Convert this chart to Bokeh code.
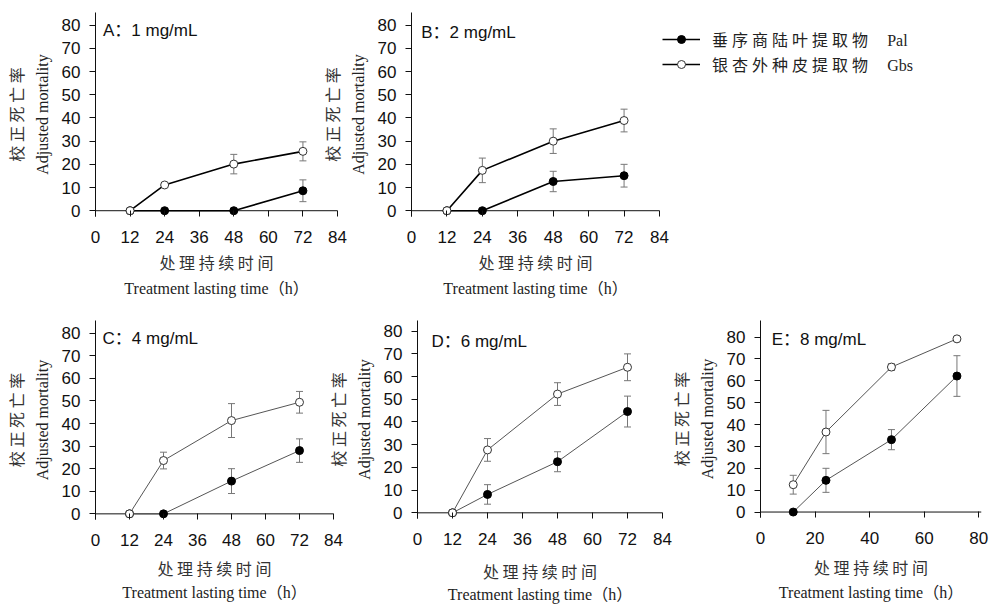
from bokeh.plotting import figure
from bokeh.models import (ColumnDataSource, Whisker, TeeHead, Span, Label, LinearAxis,
                          FixedTicker, Range1d, Legend, LegendItem)
from bokeh.layouts import row, column
from bokeh.embed import file_html
from bokeh.resources import INLINE

# ---------------- data ----------------
hours = [12, 24, 48, 72]

pal_A = [0, 0, 0, 8.6]
pal_A_err = [0, 0, 0, 4.7]
gbs_A = [0, 11.1, 20.1, 25.6]
gbs_A_err = [0, 0, 4.2, 4.1]

pal_B = [0, 0, 12.6, 15.1]
pal_B_err = [0, 0, 4.4, 4.9]
gbs_B = [0, 17.4, 30.0, 38.9]
gbs_B_err = [0, 5.3, 5.3, 4.9]

pal_C = [0, 0, 14.5, 28.0]
pal_C_err = [0, 0, 5.5, 5.2]
gbs_C = [0, 23.6, 41.3, 49.4]
gbs_C_err = [0, 3.7, 7.5, 4.8]

pal_D = [0, 8.1, 22.5, 44.6]
pal_D_err = [0, 4.3, 4.4, 6.8]
gbs_D = [0, 27.7, 52.3, 64.1]
gbs_D_err = [0, 5.0, 5.0, 5.9]

pal_E = [0, 14.5, 33.1, 62.2]
pal_E_err = [0, 5.5, 4.6, 9.3]
gbs_E = [12.5, 36.6, 66.3, 79.2]
gbs_E_err = [4.3, 9.9, 1.5, 0.5]

x_ticks_h = [0, 12, 24, 36, 48, 60, 72, 84]
x_ticks_E = [0, 20, 40, 60, 80]
y_ticks = [0, 10, 20, 30, 40, 50, 60, 70, 80]

titles = ["A：1 mg/mL", "B：2 mg/mL", "C：4 mg/mL", "D：6 mg/mL", "E：8 mg/mL"]
y_title_cn = "校 正 死 亡 率"
y_title_en = "Adjusted mortality"
x_title_cn = "处 理 持 续 时 间"
x_title_en = "Treatment lasting time（h）"
legend_labels = ["垂 序 商 陆 叶 提 取 物\u2003\u2009Pal", "银 杏 外 种 皮 提 取 物\u2003\u2009Gbs"]

SANS = "Liberation Sans, Noto Sans CJK SC"
SERIF = "Liberation Serif, Noto Sans CJK SC"
CJK = "Noto Sans CJK SC"
NAN = float("nan")


def make_panel(title, pal, pal_err, gbs, gbs_err, x_end, x_ticks, y_end,
               fw, fh, top, bottom, right, lcol, lw, tx, ty, mleft,
               xs1, xs2):
    p = figure(frame_width=fw, frame_height=fh,
               min_border_left=95, min_border_right=right,
               min_border_top=top, min_border_bottom=bottom,
               x_range=Range1d(0, x_end), y_range=Range1d(-2.5, y_end),
               output_backend="svg", toolbar_location=None, tools="",
               margin=(0, 0, 0, mleft))
    p.border_fill_alpha = 0
    p.background_fill_alpha = 0
    p.outline_line_color = None
    p.xgrid.visible = False
    p.ygrid.visible = False

    src = ColumnDataSource(dict(
        x=hours, pal=pal, gbs=gbs,
        pal_lo=[v - e for v, e in zip(pal, pal_err)],
        pal_hi=[v + e for v, e in zip(pal, pal_err)],
        gbs_lo=[v - e for v, e in zip(gbs, gbs_err)],
        gbs_hi=[v + e for v, e in zip(gbs, gbs_err)],
    ))

    p.add_layout(Span(location=0, dimension="width", line_color="#111",
                      line_width=1, level="underlay"))

    for lo, hi in (("pal_lo", "pal_hi"), ("gbs_lo", "gbs_hi")):
        w = Whisker(base="x", lower=lo, upper=hi, source=src, dimension="height",
                    line_color="#777", line_width=1, level="underlay",
                    lower_head=TeeHead(size=7, line_color="#777", line_width=1),
                    upper_head=TeeHead(size=7, line_color="#777", line_width=1))
        p.add_layout(w)

    p.line("x", "pal", source=src, line_color=lcol, line_width=lw)
    p.line("x", "gbs", source=src, line_color=lcol, line_width=lw)
    p.scatter("x", "pal", source=src, marker="circle", size=8,
              fill_color="black", line_color="black")
    p.scatter("x", "gbs", source=src, marker="circle", size=8,
              fill_color="white", line_color="#333", line_width=1)

    p.add_layout(Label(x=tx, y=ty, text=title, text_font=SANS,
                       text_font_size="17px", text_color="#111",
                       text_baseline="alphabetic"))

    yax = p.yaxis[0]
    yax.ticker = FixedTicker(ticks=y_ticks)
    yax.major_tick_out = 6
    yax.major_tick_in = 0
    yax.minor_tick_line_color = None
    yax.major_label_standoff = 9
    yax.major_label_text_font = "Liberation Sans"
    yax.major_label_text_font_size = "17px"
    yax.major_label_text_color = "#111"
    yax.axis_line_color = "#111"
    yax.major_tick_line_color = "#111"
    yax.axis_label = y_title_en
    yax.axis_label_text_font = SERIF
    yax.axis_label_text_font_size = "16px"
    yax.axis_label_text_font_style = "normal"
    yax.axis_label_text_color = "#222"
    yax.axis_label_standoff = 8

    y2 = LinearAxis(ticker=FixedTicker(ticks=[]), axis_label=y_title_cn,
                    axis_line_color=None, major_tick_line_color=None,
                    minor_tick_line_color=None, major_tick_out=0, major_tick_in=0,
                    major_label_standoff=0, axis_label_standoff=3,
                    axis_label_text_font=CJK, axis_label_text_font_size="16px",
                    axis_label_text_font_style="normal", axis_label_text_color="#333")
    p.add_layout(y2, "left")

    xax = p.xaxis[0]
    xax.ticker = FixedTicker(ticks=x_ticks)
    xax.major_tick_in = 6
    xax.major_tick_out = 0
    xax.minor_tick_line_color = None
    xax.axis_line_color = None
    xax.major_tick_line_color = "#111"
    xax.major_label_standoff = 14
    xax.major_label_text_font = "Liberation Sans"
    xax.major_label_text_font_size = "17px"
    xax.major_label_text_color = "#111"
    xax.axis_label = x_title_cn
    xax.axis_label_text_font = CJK
    xax.axis_label_text_font_size = "16px"
    xax.axis_label_text_font_style = "normal"
    xax.axis_label_text_color = "#333"
    xax.axis_label_standoff = xs1

    x2 = LinearAxis(ticker=FixedTicker(ticks=[]), axis_label=x_title_en,
                    axis_line_color=None, major_tick_line_color=None,
                    minor_tick_line_color=None, major_tick_out=0, major_tick_in=0,
                    major_label_standoff=0, axis_label_standoff=xs2,
                    axis_label_text_font=SERIF, axis_label_text_font_size="16px",
                    axis_label_text_font_style="normal", axis_label_text_color="#222")
    p.add_layout(x2, "below")
    return p


A = make_panel(titles[0], pal_A, pal_A_err, gbs_A, gbs_A_err, 84, x_ticks_h, 85.5,
               242, 204, 12, 90, 16, "black", 1.6, 2.6, 77.8, 0, 4, 3)
B = make_panel(titles[1], pal_B, pal_B_err, gbs_B, gbs_B_err, 84, x_ticks_h, 85.5,
               248, 204, 12, 90, 12, "black", 1.6, 3.3, 77.0, -37, 4, 3)
C = make_panel(titles[2], pal_C, pal_C_err, gbs_C, gbs_C_err, 84, x_ticks_h, 85.6,
               238, 199, 14, 86, 12, "#555", 1, 2.5, 77.5, 0, 7, 1)
D = make_panel(titles[3], pal_D, pal_D_err, gbs_D, gbs_D_err, 84, x_ticks_h, 84.7,
               245, 198, 14, 86, 12, "#555", 1, 4.8, 75.6, -23, 11, 0)
E = make_panel(titles[4], pal_E, pal_E_err, gbs_E, gbs_E_err, 81, x_ticks_E, 87.6,
               221, 197, 14, 86, 8, "#555", 1, 4.1, 79.0, -9, 8, 2)

# ---------------- legend panel ----------------
L = figure(frame_width=342, frame_height=294, min_border=0, min_border_top=12,
           x_axis_type=None, y_axis_type=None, x_range=Range1d(0, 1), y_range=Range1d(0, 1),
           output_backend="svg", toolbar_location=None, tools="",
           margin=(0, 0, 0, -24))
L.border_fill_alpha = 0
L.background_fill_alpha = 0
L.outline_line_color = None
l1 = L.line(x=[NAN], y=[NAN], line_color="black", line_width=1.6)
s1 = L.scatter(x=[NAN], y=[NAN], marker="circle", size=8, fill_color="black", line_color="black")
l2 = L.line(x=[NAN], y=[NAN], line_color="black", line_width=1.6)
s2 = L.scatter(x=[NAN], y=[NAN], marker="circle", size=8, fill_color="white", line_color="#333")
legend = Legend(items=[LegendItem(label=legend_labels[0], renderers=[l1, s1]),
                       LegendItem(label=legend_labels[1], renderers=[l2, s2])],
                location="top_left", glyph_width=38, glyph_height=20, label_height=20,
                spacing=1, padding=0, margin=15, label_standoff=12,
                border_line_color=None, background_fill_alpha=0,
                label_text_font=SERIF, label_text_font_size="16px",
                label_text_color="#222")
L.add_layout(legend)

layout = column(row(A, B, L), row(C, D, E))

with open("out.html", "w") as f:
    f.write(file_html(layout, INLINE))
